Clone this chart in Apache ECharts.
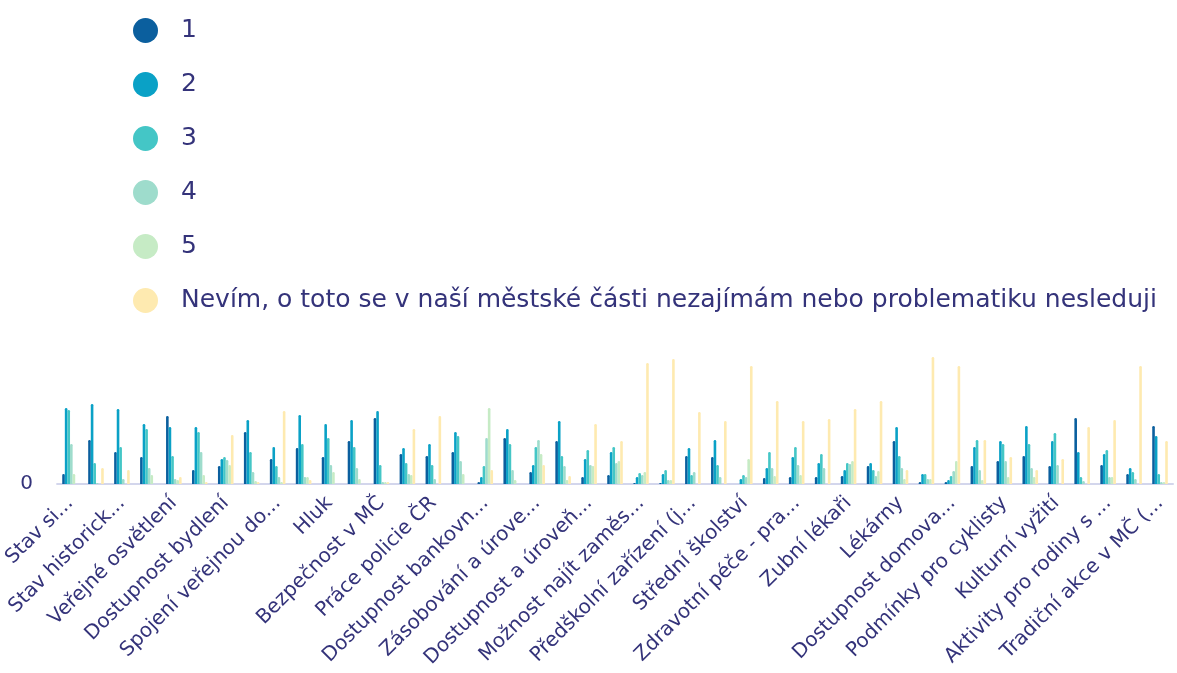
<!DOCTYPE html>
<html>
<head>
<meta charset="utf-8">
<script src="https://cdn.jsdelivr.net/npm/echarts@6/dist/echarts.min.js"></script>
<style>
  html, body { margin: 0; padding: 0; background: #fff; }
  #chart { width: 1177px; height: 673px; }
</style>
</head>
<body>
<div id="chart"></div>
<script>
// kategorie (popisky se zobrazují jen u každé druhé)
const categories = [
    'Stav si...', 'Stav ko...', 'Stav historick...', 'Čistota veřejných...',
    'Veřejné osvětlení', 'Údržba zeleně', 'Dostupnost bydlení', 'Dopravní situace',
    'Spojení veřejnou do...', 'Parkování', 'Hluk', 'Kvalita ovzduší',
    'Bezpečnost v MČ', 'Vandalismus', 'Práce policie ČR', 'Práce městské policie',
    'Dostupnost bankovn...', 'Dostupnost pošty', 'Zásobování a úrove...', 'Dostupnost služeb',
    'Dostupnost a úroveň...', 'Pracovní příležitosti', 'Možnost najít zaměs...', 'Základní školství',
    'Předškolní zařízení (j...', 'Mateřské školy', 'Střední školství', 'Zdravotní péče - spec...',
    'Zdravotní péče - pra...', 'Zdravotní péče - děti', 'Zubní lékaři', 'Sociální služby',
    'Lékárny', 'Péče o seniory', 'Dostupnost domova...', 'Cyklostezky',
    'Podmínky pro cyklisty', 'Sportovní vyžití', 'Kulturní vyžití', 'Aktivity pro seniory',
    'Aktivity pro rodiny s ...', 'Komunitní život', 'Tradiční akce v MČ (...'
];

const seriesNames = ['1', '2', '3', '4', '5', 'Nevím, o toto se v naší městské části nezajímám nebo problematiku nesleduji'];

const values1 = [10, 44, 32, 27, 68, 14, 18, 52, 25, 36, 27, 43, 66, 30, 28, 32, 2, 46, 12, 43, 7, 9, 1, 1, 28, 27, 0, 6, 7, 7, 8, 18, 43, 2, 2, 18, 23, 28, 18, 66, 19, 10, 58];
const values2 = [76, 80, 75, 60, 57, 57, 25, 64, 37, 69, 60, 64, 73, 36, 40, 52, 7, 55, 19, 63, 25, 32, 7, 10, 36, 44, 5, 16, 27, 21, 14, 21, 57, 10, 4, 37, 43, 58, 43, 32, 30, 16, 48];
const values3 = [74, 21, 37, 55, 28, 52, 27, 32, 18, 40, 46, 37, 19, 21, 19, 48, 18, 40, 37, 28, 34, 37, 11, 14, 9, 19, 9, 32, 37, 30, 21, 14, 28, 10, 8, 44, 40, 40, 51, 7, 34, 12, 10];
const values4 = [40, 1, 5, 16, 5, 32, 24, 12, 7, 7, 19, 16, 2, 10, 5, 23, 46, 14, 44, 18, 19, 21, 9, 4, 12, 7, 7, 16, 19, 16, 20, 8, 16, 5, 13, 14, 23, 16, 19, 3, 7, 5, 2];
const values5 = [10, 0, 0, 9, 4, 9, 19, 3, 2, 7, 12, 5, 2, 9, 0, 10, 76, 4, 30, 4, 18, 23, 12, 4, 0, 0, 25, 8, 9, 0, 23, 13, 5, 5, 23, 4, 7, 7, 0, 0, 7, 0, 2];
const values6 = [0, 16, 14, 0, 7, 2, 49, 2, 73, 4, 0, 0, 2, 55, 68, 0, 14, 0, 19, 8, 60, 43, 121, 125, 72, 63, 118, 83, 63, 65, 75, 83, 14, 127, 118, 44, 27, 14, 25, 57, 64, 118, 43];

const colors = ['#0b5f9e', '#0aa1c6', '#44c6c6', '#9edccc', '#c6ebc5', '#feeab0'];
const allValues = [values1, values2, values3, values4, values5, values6];

const textColor = '#34337a';
const fontFamily = 'DejaVu Sans';

const chart = echarts.init(document.getElementById('chart'));

const option = {
    color: colors,
    animation: false,
    legend: {
        orient: 'vertical',
        left: 128,
        top: 13,
        icon: 'circle',
        itemWidth: 25,
        itemHeight: 25,
        itemGap: 29,
        textStyle: {
            color: textColor,
            fontFamily: fontFamily,
            fontSize: 25,
            padding: [0, 0, 0, 18]
        },
        data: seriesNames
    },
    grid: {
        left: 57,
        right: 4,
        top: 354,
        bottom: 189,
        containLabel: false
    },
    xAxis: {
        type: 'category',
        data: categories,
        axisLine: {
            lineStyle: { color: '#d3d6ec', width: 2 }
        },
        axisTick: { show: false },
        axisLabel: {
            interval: 1,
            rotate: 45,
            margin: 16,
            color: textColor,
            fontFamily: fontFamily,
            fontSize: 20
        }
    },
    yAxis: {
        type: 'value',
        min: 0,
        max: 130,
        interval: 130,
        splitLine: { show: false },
        axisLine: { show: false },
        axisTick: { show: false },
        axisLabel: {
            margin: 24,
            color: textColor,
            fontFamily: fontFamily,
            fontSize: 20,
            formatter: function (v) { return v === 0 ? '0' : ''; }
        }
    },
    series: seriesNames.map(function (name, i) {
        return {
            name: name,
            type: 'bar',
            data: allValues[i],
            barGap: '0%',
            barCategoryGap: '40%',
            itemStyle: { borderRadius: [2, 2, 0, 0] }
        };
    })
};

chart.setOption(option);
</script>
</body>
</html>
